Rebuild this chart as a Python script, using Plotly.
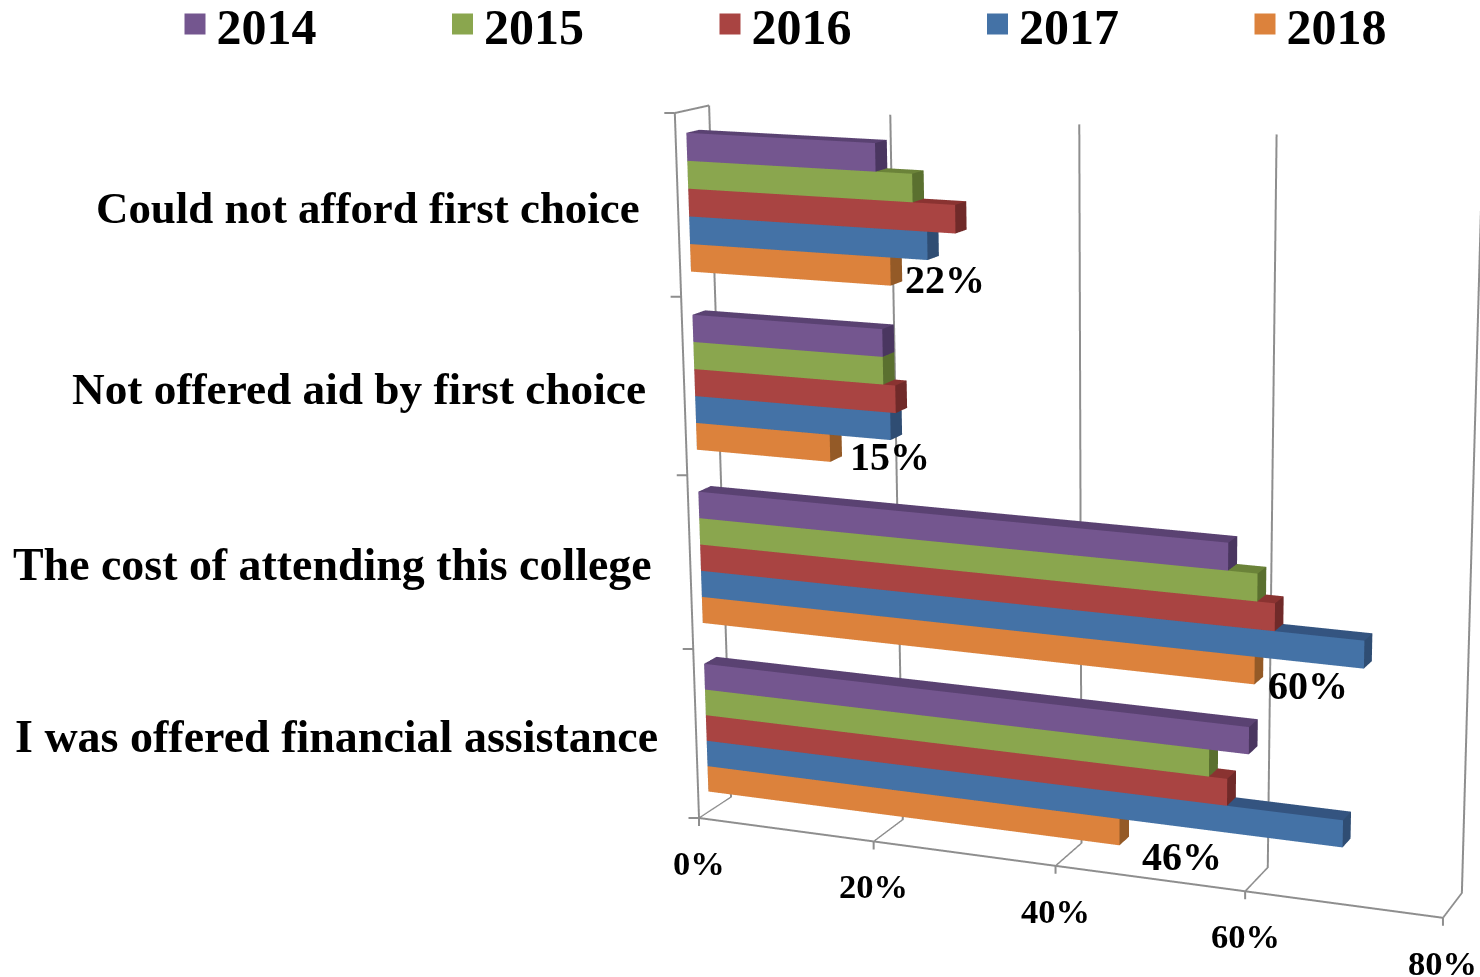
import plotly.graph_objects as go

# Survey results by reason and year (percent of respondents)
categories = ["I was offered financial assistance", "The cost of attending this college",
              "Not offered aid by first choice", "Could not afford first choice"]
years = ["2014", "2015", "2016", "2017", "2018"]
values_2014 = [59.5, 57.2, 21, 20.6]
values_2015 = [55.4, 60.2, 21, 24.5]
values_2016 = [57.3, 62, 22.3, 29]
values_2017 = [69.2, 71, 21.7, 26]
values_2018 = [46, 60, 15, 22]
series_values = [values_2014, values_2015, values_2016, values_2017, values_2018]
x_ticks = [0, 20, 40, 60, 80]
z_ticks = [0, 1, 2, 3, 4]

front_colors = ["#74568F", "#8AA64E", "#A94442", "#4472A6", "#DC823C"]
top_colors = ["#5A4272", "#6B8339", "#8A3331", "#345480", "#B0652C"]
side_colors = ["#4A3660", "#5A702F", "#702A29", "#2F4D73", "#945A27"]

# Per-category text settings: category label size, data label nudges in pixels
category_font_sizes = [46, 45.9, 45.3, 44.9]
label_dx = [11, 3, 6, 1]
label_dy = [-20, -9, 0, 2]

# Bar placement inside each category band and along the depth axis
BAND_START = 0.12
BAR_HEIGHT = 0.152
DEPTH_FRONT = 0.31
DEPTH_BACK = 0.69

# Page geometry: the scene is larger than the window so its optical centre falls on the chart
PAGE_W, PAGE_H, PAGE_TOP = 2438, 2558, -786
FONT = "Liberation Serif"
GRID = "#8E8E8E"


def bar_mesh(row, color_front, color_top, color_side, level):
    xs, ys, zs, i, j, k, colors = [], [], [], [], [], [], []
    for cat, vals in enumerate(row):
        z0 = cat + BAND_START + level * BAR_HEIGHT
        z1 = z0 + BAR_HEIGHT
        n = len(xs)
        for z in (z0, z1):
            for y in (DEPTH_FRONT, DEPTH_BACK):
                for x in (0, vals):
                    xs.append(x); ys.append(y); zs.append(z)
        # vertex order: x, then y, then z
        quads = [((0, 1, 5, 4), color_front), ((2, 3, 7, 6), color_side),
                 ((0, 2, 6, 4), color_side), ((1, 3, 7, 5), color_side),
                 ((0, 1, 3, 2), color_side), ((4, 5, 7, 6), color_top)]
        for (a, b, c, d), col in quads:
            i += [n + a, n + a]; j += [n + b, n + c]; k += [n + c, n + d]
            colors += [col, col]
    return xs, ys, zs, i, j, k, colors


fig = go.Figure()
for s, (year, row) in enumerate(zip(years, series_values)):
    # the band runs top-down: the first year sits highest in each category
    xs, ys, zs, i, j, k, colors = bar_mesh(row, front_colors[s], top_colors[s], side_colors[s], len(years) - 1 - s)
    fig.add_trace(go.Mesh3d(x=xs, y=ys, z=zs, i=i, j=j, k=k, facecolor=colors, flatshading=True,
                            lighting=dict(ambient=1, diffuse=0, specular=0, fresnel=0, roughness=1),
                            name=year, showlegend=False, hoverinfo="name"))
    # legend swatch for the series
    fig.add_trace(go.Scatter(x=[None], y=[None], mode="markers", name=year,
                             marker=dict(symbol="square", size=16, color=front_colors[s],
                                         line=dict(color=front_colors[s], width=5))))

# top edge of the side wall
fig.add_trace(go.Scatter3d(x=[0, 0], y=[0, 1], z=[4, 4], mode="lines", line=dict(color=GRID, width=4),
                           showlegend=False, hoverinfo="skip"))

annotations = []
for cat, label in enumerate(categories):
    annotations.append(dict(x=0, y=0, z=cat + 0.5, text=f"<b>{label}</b>", showarrow=False, xanchor="right",
                            yanchor="middle", xshift=-36, yshift=-2,
                            font=dict(family=FONT, size=category_font_sizes[cat], color="black")))
    annotations.append(dict(x=values_2018[cat], y=DEPTH_BACK, z=cat + BAND_START, text=f"<b>{values_2018[cat]}%</b>",
                            showarrow=False, xanchor="left", yanchor="middle",
                            xshift=label_dx[cat], yshift=label_dy[cat],
                            font=dict(family=FONT, size=40, color="black")))
tick_style = dict(text=" ", showarrow=True, arrowhead=0, arrowwidth=2, arrowcolor=GRID, font=dict(size=1))
for t in x_ticks:
    annotations.append(dict(x=t, y=0, z=0, text=f"<b>{t}%</b>", showarrow=False, xanchor="center",
                            yanchor="middle", yshift=-45, font=dict(family=FONT, size=34.5, color="black")))
    annotations.append(dict(x=t, y=0, z=0, ax=0, ay=10, **tick_style))
for t in z_ticks:
    annotations.append(dict(x=0, y=0, z=t, ax=-12, ay=0, **tick_style))

common_axis = dict(title="", showbackground=False, showticklabels=False, showspikes=False, zeroline=False, ticks="")
fig.update_layout(
    width=PAGE_W, height=PAGE_H, autosize=False, margin=dict(l=0, r=0, t=0, b=0, pad=0),
    paper_bgcolor="white", plot_bgcolor="white",
    xaxis=dict(visible=False), yaxis=dict(visible=False),
    legend=dict(orientation="h", x=173.5 / PAGE_W, xanchor="left", y=1 - (24 - PAGE_TOP) / PAGE_H, yanchor="middle",
                font=dict(family=FONT, size=50, color="black", weight="bold"), itemwidth=33, entrywidth=219.5,
                entrywidthmode="pixels", bgcolor="rgba(0,0,0,0)", borderwidth=0),
    scene=dict(
        domain=dict(x=[0, 1], y=[0, 1]),
        dragmode="orbit",
        aspectmode="manual", aspectratio=dict(x=1, y=0.0873, z=0.9156),
        camera=dict(eye=dict(x=1.3853, y=-3.406, z=0.9116),
                    center=dict(x=0.1374, y=0.1706, z=-0.0157),
                    up=dict(x=-0.08569, y=0.22193, z=0.97128),
                    projection=dict(type="perspective")),
        xaxis=dict(range=[0, 80], tickvals=x_ticks, showgrid=True, gridcolor=GRID, gridwidth=4,
                   showline=True, linecolor=GRID, linewidth=4, **common_axis),
        yaxis=dict(range=[0, 1], showgrid=False, showline=False, **common_axis),
        zaxis=dict(range=[0, 4], tickvals=z_ticks, showgrid=False, showline=True, linecolor=GRID, linewidth=4,
                   **common_axis),
        annotations=annotations,
    ),
)

place_page = ("var g=document.getElementById('{plot_id}');g.style.position='absolute';g.style.left='0';"
              f"g.style.top='{PAGE_TOP}px';document.documentElement.style.overflow='hidden';"
              "document.body.style.overflow='hidden';")
fig.write_html("out.html", post_script=place_page)
